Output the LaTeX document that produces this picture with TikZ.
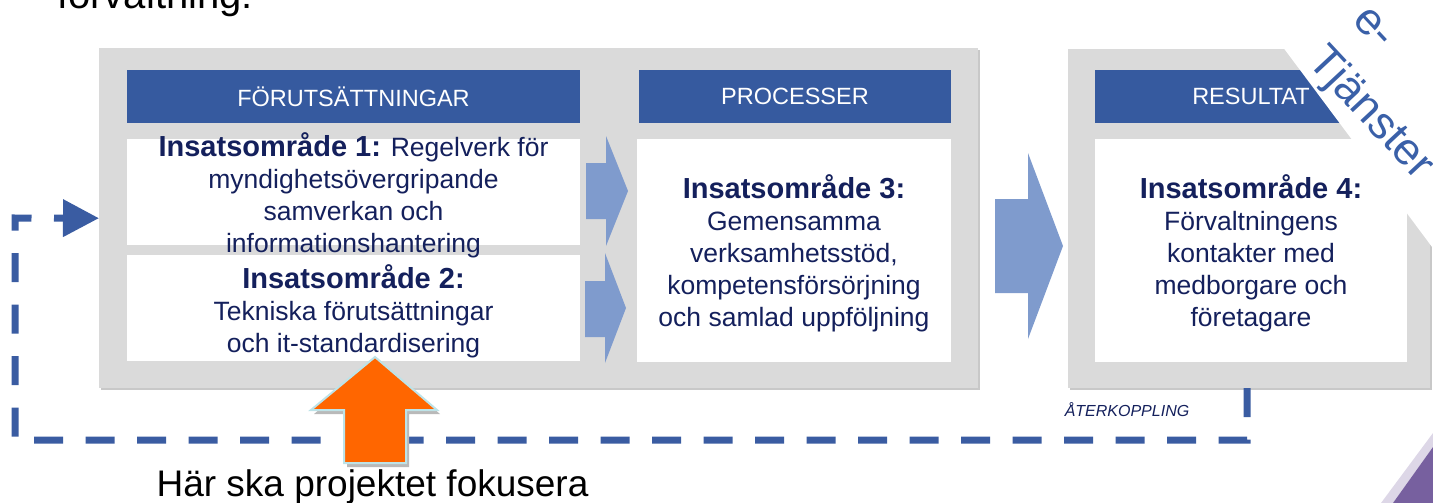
\documentclass[tikz,border=0pt]{standalone}
\usepackage{fontspec}
\setmainfont{Liberation Sans}
\usetikzlibrary{arrows.meta,shadows}
\definecolor{panelgrey}{HTML}{DADADA}
\definecolor{shadowgrey}{HTML}{C8C8C8}
\definecolor{hdrblue}{HTML}{365A9F}
\definecolor{arrblue}{HTML}{7F9BCD}
\definecolor{navy}{HTML}{14205C}
\definecolor{fbblue}{HTML}{3A5CA2}
\definecolor{orangearr}{HTML}{FF6600}
\definecolor{cyanedge}{HTML}{BDE3E8}
\definecolor{bannerblue}{HTML}{3A60A8}
\definecolor{purplecorner}{HTML}{77609F}
\begin{document}
\begin{tikzpicture}[x=1pt,y=-1pt,
  panel/.style={fill=panelgrey, draw=none, inner sep=0pt, anchor=north west,
    drop shadow={shadow xshift=2pt, shadow yshift=-2pt, fill=shadowgrey, opacity=1}},
  hdr/.style={fill=hdrblue, text=white, inner sep=0pt, minimum height=53pt,
    font=\fontsize{23.5}{28}\selectfont},
  wbox/.style={fill=white, inner sep=0pt},
  boxtext/.style={text=navy, align=center, inner sep=0pt,
    font=\fontsize{26.5}{32}\selectfont},
  blockarrow/.style={fill=arrblue, draw=none},
  feedback/.style={draw=fbblue, line width=7pt, dash pattern=on 29pt off 22.5pt,
    line join=miter, -{Triangle[length=36pt,width=36pt]}},
  bannertext/.style={text=bannerblue, inner sep=0pt, font=\fontsize{45}{52}\selectfont}
]
\useasboundingbox (0,0) rectangle (1433,503);

% panels
\node[panel, minimum width=879pt, minimum height=340pt] (p1) at (99,48) {};
\node[panel, minimum width=362pt, minimum height=339pt] (p2) at (1068,49) {};

% headers
\node[hdr, minimum width=453pt] (h1) at (353.5,96.5) {FÖRUTSÄTTNINGAR};
\node[hdr, minimum width=312pt] (h2) at (795,96.5) {PROCESSER};
\node[hdr, minimum width=312pt] (h3) at (1251,96.5) {RESULTAT};

% white boxes
\node[wbox, minimum width=453pt, minimum height=106pt] (b1) at (353.5,192) {};
\node[wbox, minimum width=453pt, minimum height=106pt] (b2) at (353.5,308) {};
\node[wbox, minimum width=314pt, minimum height=223pt] (b3) at (794,250.5) {};
\node[wbox, minimum width=312pt, minimum height=223pt] (b4) at (1251,250.5) {};

% block arrows
\fill[blockarrow] (586,163) -- (606,163) -- (606,136) -- (628,191) -- (606,246) -- (606,219) -- (586,219) -- cycle;
\fill[blockarrow] (585,281) -- (605,281) -- (605,253) -- (626,308) -- (605,363) -- (605,337) -- (585,337) -- cycle;
\fill[blockarrow] (995,199) -- (1028,199) -- (1028,153) -- (1063,246) -- (1028,339) -- (1028,293) -- (995,293) -- cycle;

% box texts
\node[boxtext] (t1) at (353.5,195) {{\fontsize{29}{32}\bfseries Insatsområde 1:} Regelverk för\\myndighetsövergripande\\samverkan och\\informationshantering};
\node[boxtext] (t2) at (353.5,311) {{\fontsize{29}{32}\bfseries Insatsområde 2:}\\Tekniska förutsättningar\\och it-standardisering};
\node[boxtext] (t3) at (794,253) {{\fontsize{29}{32}\bfseries Insatsområde 3:}\\Gemensamma\\verksamhetsstöd,\\kompetensförsörjning\\och samlad uppföljning};
\node[boxtext] (t4) at (1251,253) {{\fontsize{29}{32}\bfseries Insatsområde 4:}\\Förvaltningens\\kontakter med\\medborgare och\\företagare};

% e-Tjänster banner
\fill[white] (1262.7,20) -- (1440,20) -- (1440,257.6) -- cycle;
\node[bannertext, anchor=base west, rotate=-47] (etj1) at (1351,21) {e-};
\node[bannertext, anchor=base west, rotate=-47] (etj2) at (1306,62) {Tjänster};

% purple corner
\fill[purplecorner!25] (1381,503) -- (1433,433) -- (1433,447) -- (1393,503) -- cycle;
\fill[purplecorner] (1393,503) -- (1433,447) -- (1433,503) -- cycle;

% feedback loop
\coordinate (fbs) at (1247,388);
\coordinate (fbc1) at (1247,440);
\coordinate (fbc2) at (15,440);
\coordinate (fbc3) at (15,218);
\draw[feedback] (fbs) -- (fbc1) -- (fbc2) -- (fbc3) -- (p1.west);
\node[text=navy, anchor=base, inner sep=0pt, font=\fontsize{16}{19}\selectfont\itshape] (fbl) at (1127,416) {ÅTERKOPPLING};

% orange focus arrow
\fill[gray!55] (378,361) -- (440,414) -- (409,414) -- (409,467) -- (347,467) -- (347,414) -- (314,414) -- cycle;
\filldraw[fill=orangearr, draw=cyanedge, line width=2pt, line join=miter]
  (375,357) -- (437,410) -- (406,410) -- (406,463) -- (344,463) -- (344,410) -- (311,410) -- cycle;

% texts outside
\node[anchor=base west, inner sep=0pt, font=\fontsize{40}{48}\selectfont] (title) at (57,9) {förvaltning:};
\node[anchor=base, inner sep=0pt, font=\fontsize{37}{44}\selectfont] (focus) at (372.5,496) {Här ska projektet fokusera};
\end{tikzpicture}
\end{document}
